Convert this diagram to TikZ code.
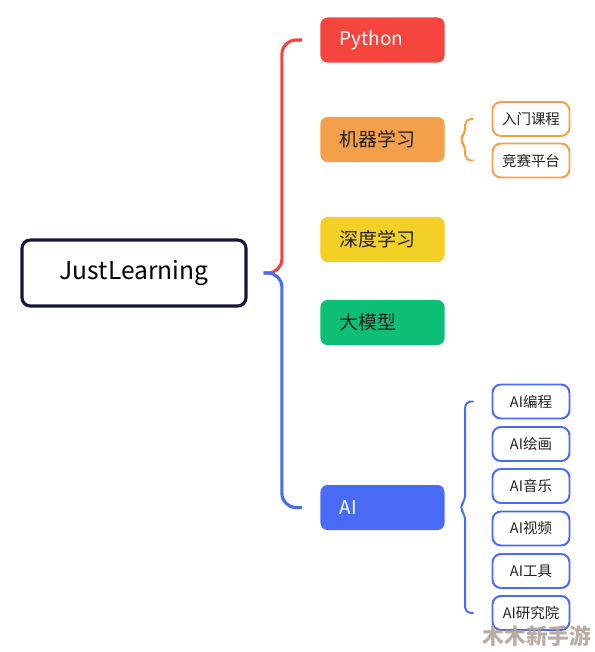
\documentclass[tikz,border=0pt]{standalone}
\usepackage{fontspec}
\setmainfont{Noto Sans CJK SC}
\usetikzlibrary{calc}

\definecolor{rot}{HTML}{F4453F}
\definecolor{orange}{HTML}{F4A04B}
\definecolor{gelb}{HTML}{F3D026}
\definecolor{gruen}{HTML}{0DBE75}
\definecolor{blau}{HTML}{4A6BF5}
\definecolor{navy}{HTML}{15163A}
\definecolor{schrift}{HTML}{222222}
\definecolor{wasser}{HTML}{B3A39A}

\begin{document}
\begin{tikzpicture}[x=0.025cm, y=-0.025cm, thick,
	haupt/.style={rounded corners=5pt, minimum height=1.125cm, text width=2.15cm, inner xsep=0.475cm, align=left, font=\fontsize{13.5}{16}\selectfont},
	kind/.style={draw, rounded corners=6pt, line width=1.4pt, fill=white, minimum width=1.925cm, minimum height=0.85cm, inner sep=0pt, font=\fontsize{10.3}{12}\selectfont, text=schrift},
	ast/.style={line width=2.2pt, rounded corners=10pt},
	klammer/.style={line width=1.4pt, rounded corners=4pt}]
	
	\useasboundingbox (0,0) rectangle (594,652);
	
	% Wurzel
	\node[draw=navy, line width=2.2pt, rounded corners=6pt, minimum width=5.6cm, minimum height=1.65cm, font=\fontsize{17.5}{20}\selectfont] (root) at (134,273) {JustLearning};
	
	% Hauptzweige
	\node[haupt, fill=rot, text=white] (py) at (382.5,40) {Python};
	\node[haupt, fill=orange, text=schrift] (ml) at (382.5,139.5) {机器学习};
	\node[haupt, fill=gelb, text=schrift] (dl) at (382.5,239.5) {深度学习};
	\node[haupt, fill=gruen, text=schrift] (gm) at (382.5,322.5) {大模型};
	\node[haupt, fill=blau, text=white] (ai) at (382.5,507.5) {AI};
	
	% Verbindungen
	\draw[ast, rot] ($(root.east)+(16,0)$) -| ($(py.west)+(-38,0)$) -- ($(py.west)+(-18,0)$);
	\draw[ast, blau] ($(root.east)+(16,0)$) -| ($(ai.west)+(-38,0)$) -- ($(ai.west)+(-18,0)$);
	
	% Kinder Maschinelles Lernen
	\node[kind, draw=orange] (k1) at (531,119) {入门课程};
	\node[kind, draw=orange] (k2) at (531,160.5) {竞赛平台};
	\draw[klammer, orange] ($(k1.west)+(-18,0)$) -| ($(ml.east)+(20,-6)$) -- ($(ml.east)+(14,0)$) -- ($(ml.east)+(20,6)$) |- ($(k2.west)+(-18,0)$);
	
	% Kinder AI
	\node[kind, draw=blau] (a1) at (531,401.5) {AI编程};
	\node[kind, draw=blau] (a2) at (531,444) {AI绘画};
	\node[kind, draw=blau] (a3) at (531,486) {AI音乐};
	\node[kind, draw=blau] (a4) at (531,528.5) {AI视频};
	\node[kind, draw=blau] (a5) at (531,571) {AI工具};
	\node[kind, draw=blau] (a6) at (531,613) {AI研究院};
	\draw[klammer, blau] ($(a1.west)+(-18,0)$) -| ($(ai.east)+(20,-7)$) -- ($(ai.east)+(14,0)$) -- ($(ai.east)+(20,7)$) |- ($(a6.west)+(-18,0)$);
	
	% Wasserzeichen
	\node[text=wasser, opacity=0.9, font=\bfseries\fontsize{15.5}{18}\selectfont] (wz) at (537,636) {木木新手游};
	
\end{tikzpicture}
\end{document}
